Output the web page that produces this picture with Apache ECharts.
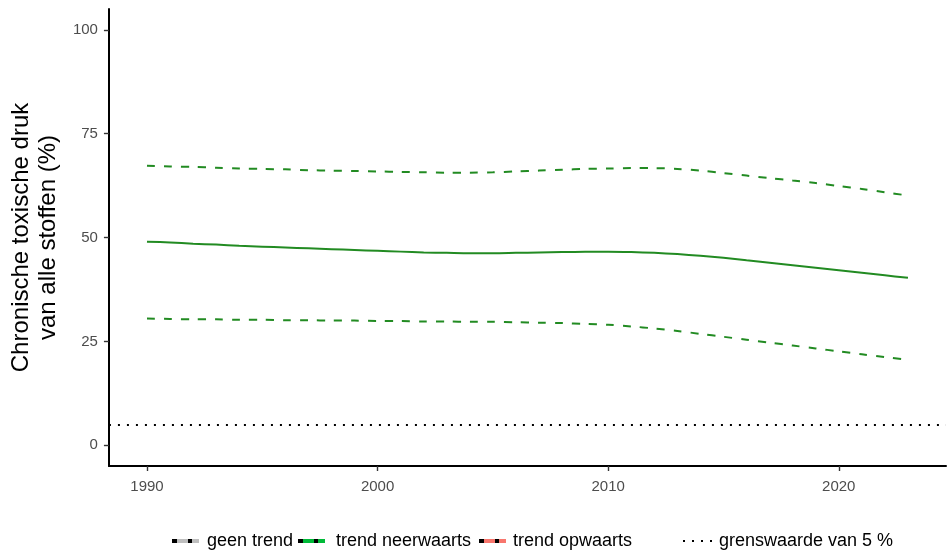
<!DOCTYPE html>
<html>
<head>
<meta charset="utf-8">
<script src="https://cdn.jsdelivr.net/npm/echarts@6/dist/echarts.min.js"></script>
<style>html,body{margin:0;padding:0;background:#fff}#c{width:948px;height:552px}</style>
</head>
<body>
<div id="c"></div>
<script>
var years = [1990,1991,1992,1993,1994,1995,1996,1997,1998,1999,2000,2001,2002,2003,2004,2005,2006,2007,2008,2009,2010,2011,2012,2013,2014,2015,2016,2017,2018,2019,2020,2021,2022,2023];
var trendMid = [49.0,48.8,48.5,48.3,48.0,47.8,47.6,47.4,47.2,47.0,46.8,46.6,46.4,46.3,46.2,46.2,46.3,46.4,46.5,46.6,46.6,46.5,46.3,46.0,45.6,45.1,44.5,43.9,43.3,42.7,42.1,41.5,40.9,40.3];
var trendUpper = [67.3,67.1,67.0,66.8,66.6,66.5,66.4,66.2,66.1,66.0,65.9,65.8,65.7,65.6,65.6,65.7,65.9,66.1,66.3,66.5,66.6,66.7,66.7,66.5,66.1,65.5,64.9,64.3,63.7,63.1,62.4,61.7,60.9,60.1];
var trendLower = [30.5,30.4,30.3,30.3,30.2,30.2,30.1,30.1,30.0,30.0,29.9,29.9,29.8,29.8,29.7,29.7,29.6,29.5,29.4,29.2,29.0,28.6,28.1,27.5,26.8,26.1,25.4,24.7,24.0,23.3,22.6,21.9,21.2,20.6];
var threshold = 5;
var xTicks = [1990,2000,2010,2020];
var yTicks = [0,25,50,75,100];
var legendLabels = ['geen trend','trend neerwaarts','trend opwaarts','grenswaarde van 5 %'];

function pairs(v){ return years.map(function(y,i){ return [y, v[i]]; }); }

var FONT = 'Liberation Sans, Arial, sans-serif';
var chart = echarts.init(document.getElementById('c'), null, {renderer:'canvas'});

function key(x, color){
  return [
    {type:'rect', shape:{x:x, y:539, width:27, height:4}, style:{fill:color}},
    {type:'rect', shape:{x:x, y:539, width:5, height:4}, style:{fill:'#000'}},
    {type:'rect', shape:{x:x+16, y:539, width:4, height:4}, style:{fill:'#000'}}
  ];
}
var graphics = [].concat(
  key(172,'#BEBEBE'),
  [{type:'text', x:207, y:541, style:{text:legendLabels[0], font:'18px '+FONT, fill:'#000', textVerticalAlign:'middle'}}],
  key(298,'#00BA38'),
  [{type:'text', x:336, y:541, style:{text:legendLabels[1], font:'18px '+FONT, fill:'#000', textVerticalAlign:'middle'}}],
  key(479,'#F8766D'),
  [{type:'text', x:513, y:541, style:{text:legendLabels[2], font:'18px '+FONT, fill:'#000', textVerticalAlign:'middle'}}],
  [{type:'line', shape:{x1:683, y1:541, x2:714, y2:541}, style:{stroke:'#000', lineWidth:2, lineDash:[2,7]}}],
  [{type:'text', x:719, y:541, style:{text:legendLabels[3], font:'18px '+FONT, fill:'#000', textVerticalAlign:'middle'}}]
);

chart.setOption({
  animation:false,
  backgroundColor:'#fff',
  grid:{left:106, right:2, top:9, bottom:86, containLabel:false},
  xAxis:{
    type:'value', min:1988.35, max:2024.65,
    axisLine:{onZero:false, lineStyle:{color:'#000', width:2}},
    axisTick:{customValues:xTicks, length:5, lineStyle:{color:'#333', width:1.4}},
    axisLabel:{customValues:xTicks, color:'#4D4D4D', fontSize:15, fontFamily:FONT, margin:13, formatter:function(v){return String(v);}},
    splitLine:{show:false}
  },
  yAxis:{
    type:'value', min:-5, max:105,
    name:'Chronische toxische druk\nvan alle stoffen (%)',
    nameLocation:'middle', nameGap:37, nameRotate:90,
    nameTextStyle:{fontSize:24, fontFamily:FONT, color:'#000', lineHeight:27},
    axisLine:{show:true, onZero:false, lineStyle:{color:'#000', width:2}},
    axisTick:{show:true, customValues:yTicks, length:5, lineStyle:{color:'#333', width:1.4}},
    axisLabel:{customValues:yTicks, color:'#4D4D4D', fontSize:15, fontFamily:FONT, margin:11},
    splitLine:{show:false}
  },
  series:[
    {type:'line', name:'upper', data:pairs(trendUpper), showSymbol:false, smooth:0.3,
     lineStyle:{color:'#228B22', width:2, type:[8,9]}},
    {type:'line', name:'mid', data:pairs(trendMid), showSymbol:false, smooth:0.3,
     lineStyle:{color:'#228B22', width:2}},
    {type:'line', name:'lower', data:pairs(trendLower), showSymbol:false, smooth:0.3,
     lineStyle:{color:'#228B22', width:2, type:[8,9]},
     markLine:{silent:true, symbol:'none', label:{show:false},
       lineStyle:{color:'#000', width:2, type:[2,7]},
       data:[{yAxis:threshold}]}}
  ],
  graphic:graphics
});
</script>
</body>
</html>
